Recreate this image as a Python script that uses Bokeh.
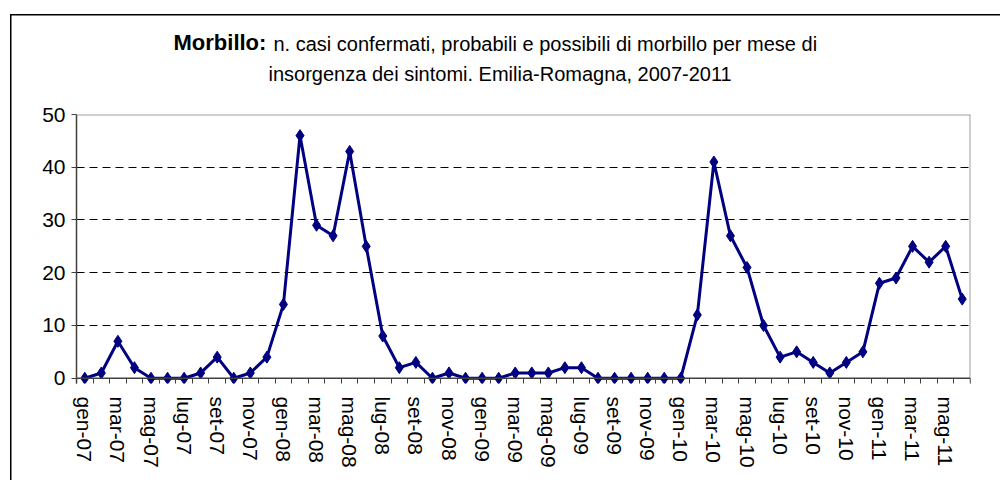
from bokeh.plotting import figure
from bokeh.models import FixedTicker, Span, Title, ColumnDataSource, Range1d
from bokeh.embed import file_html
from bokeh.resources import INLINE

months = [
    "gen-07", "feb-07", "mar-07", "apr-07", "mag-07", "giu-07", "lug-07", "ago-07", "set-07", "ott-07", "nov-07", "dic-07",
    "gen-08", "feb-08", "mar-08", "apr-08", "mag-08", "giu-08", "lug-08", "ago-08", "set-08", "ott-08", "nov-08", "dic-08",
    "gen-09", "feb-09", "mar-09", "apr-09", "mag-09", "giu-09", "lug-09", "ago-09", "set-09", "ott-09", "nov-09", "dic-09",
    "gen-10", "feb-10", "mar-10", "apr-10", "mag-10", "giu-10", "lug-10", "ago-10", "set-10", "ott-10", "nov-10", "dic-10",
    "gen-11", "feb-11", "mar-11", "apr-11", "mag-11", "giu-11",
]
cases = [
    0, 1, 7, 2, 0, 0, 0, 1, 4, 0, 1, 4,
    14, 46, 29, 27, 43, 25, 8, 2, 3, 0, 1, 0,
    0, 0, 1, 1, 1, 2, 2, 0, 0, 0, 0, 0,
    0, 12, 41, 27, 21, 10, 4, 5, 3, 1, 3, 5,
    18, 19, 25, 22, 25, 15,
]
y_ticks = [0, 10, 20, 30, 40, 50]
grid_ticks = [10, 20, 30, 40]
title_bold = "Morbillo:"
title_rest = "n. casi confermati, probabili e possibili di morbillo per mese di"
title_line2 = "insorgenza dei sintomi. Emilia-Romagna, 2007-2011"

FONT = "Liberation Sans"
NAVY = "#000080"

W_FRAME, H_FRAME = 894, 269
LEFT, TOP, RIGHT, BOTTOM = 76, 114, 30, 97
x_lo, x_hi = -0.5, len(months) - 0.5
y_lo, y_hi = -1, 50

src = ColumnDataSource(data=dict(x=list(range(len(months))), y=cases, m=months))

# outer chart border (left and top edges only; the rest lies outside the picture),
# painted as the figure element's background behind a transparent border area
border_bg = (
    "linear-gradient(#000, #000) 10px 14px / 1.5px calc(100% - 14px) no-repeat, "
    "linear-gradient(#000, #000) 10px 14px / calc(100% - 10px) 1.5px no-repeat, "
    "#fff"
)

p = figure(
    frame_width=W_FRAME, frame_height=H_FRAME,
    min_border_left=LEFT, min_border_top=TOP, min_border_right=RIGHT, min_border_bottom=BOTTOM,
    x_range=Range1d(x_lo, x_hi), y_range=Range1d(y_lo, y_hi),
    output_backend="svg", toolbar_location=None,
    background_fill_color="white", border_fill_color=None,
    styles={"background": border_bg},
)
p.outline_line_color = None
p.xgrid.visible = False
p.ygrid.ticker = FixedTicker(ticks=grid_ticks)
p.ygrid.grid_line_color = "black"
p.ygrid.grid_line_dash = "8 5"
p.ygrid.grid_line_width = 1

# frame borders
p.add_layout(Span(location=y_hi, dimension="width", line_color="#a0a0a0", line_width=2))
p.add_layout(Span(location=x_hi, dimension="height", line_color="#a0a0a0", line_width=2))
p.add_layout(Span(location=0, dimension="width", line_color="#404040", line_width=1.5))

# x axis
xa = p.xaxis[0]
xa.ticker = FixedTicker(ticks=list(range(0, len(months), 2)),
                        minor_ticks=[i - 0.5 for i in range(len(months) + 1)])
xa.major_label_overrides = {i: months[i] for i in range(0, len(months), 2)}
xa.major_label_orientation = "vertical"
xa.axis_line_color = None
xa.major_tick_line_color = None
xa.minor_tick_in = 5
xa.minor_tick_out = 0
xa.minor_tick_line_color = "#404040"
xa.major_label_standoff = 7
xa.major_label_text_font = FONT
xa.major_label_text_font_size = "21px"
xa.major_label_text_color = "black"

# y axis
ya = p.yaxis[0]
ya.ticker = FixedTicker(ticks=y_ticks)
ya.axis_line_color = "#404040"
ya.axis_line_width = 1.5
ya.major_tick_in = 0
ya.major_tick_out = 5
ya.major_tick_line_color = "#404040"
ya.minor_tick_line_color = None
ya.major_label_standoff = 6
ya.major_label_text_font = FONT
ya.major_label_text_font_size = "21px"
ya.major_label_text_color = "black"

p.line(x="x", y="y", source=src, line_color=NAVY, line_width=3)
p.scatter(x="x", y="y", source=src, marker="diamond", size=12,
          fill_color=NAVY, line_color=NAVY)

# title, stacked above the frame (first added = closest to the frame)
p.add_layout(Title(text=title_line2, align="left", offset=192, vertical_align="top",
                   standoff=56, text_font=FONT, text_font_size="20px",
                   text_font_style="normal", text_color="black"), "above")
p.add_layout(Title(text=title_bold, align="left", offset=97, vertical_align="bottom",
                   standoff=-40, text_font=FONT, text_font_size="22px",
                   text_font_style="bold", text_color="black"), "above")
p.add_layout(Title(text=title_rest, align="left", offset=197, vertical_align="bottom",
                   standoff=-40, text_font=FONT, text_font_size="20px",
                   text_font_style="normal", text_color="black"), "above")

open("out.html", "w").write(file_html(p, INLINE))
